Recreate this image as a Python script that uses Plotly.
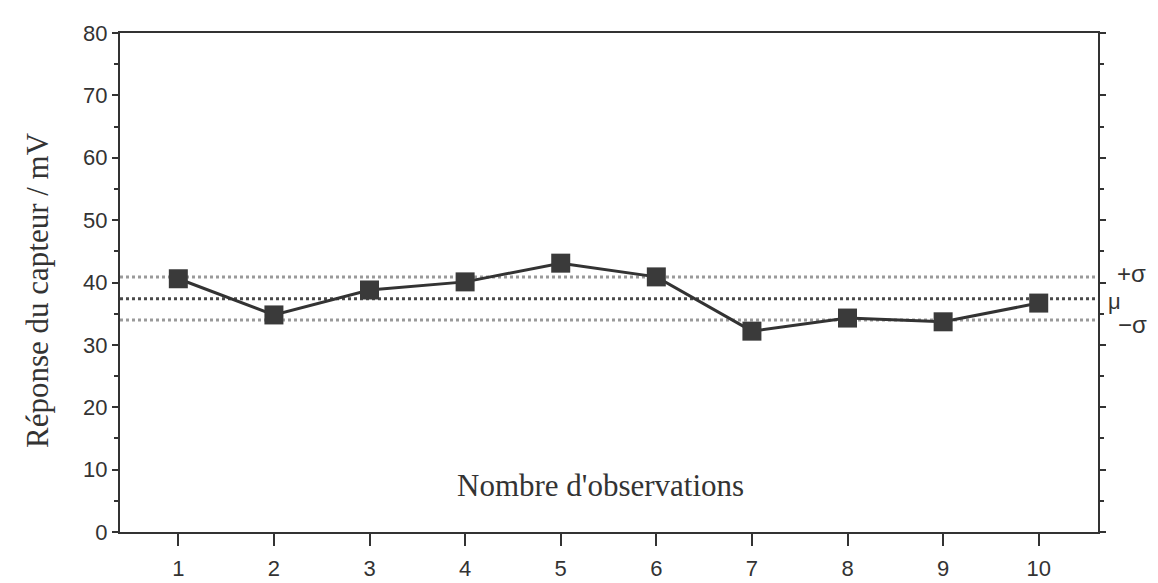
import plotly.graph_objects as go

observations = [1, 2, 3, 4, 5, 6, 7, 8, 9, 10]
reponse_mV = [40.6, 34.8, 38.8, 40.1, 43.1, 40.9, 32.2, 34.3, 33.7, 36.7]
mu = 37.4
plus_sigma = 40.9
minus_sigma = 34.0
y_ticks = [0, 10, 20, 30, 40, 50, 60, 70, 80]

x_range = [0.39, 10.62]

fig = go.Figure()

# reference lines (mean and +/- one standard deviation)
for val, col in [(plus_sigma, "#9a9a9a"), (minus_sigma, "#9a9a9a"), (mu, "#4a4a4a")]:
    fig.add_trace(go.Scatter(x=x_range, y=[val, val], mode="lines",
                             line=dict(color=col, width=3, dash="dot"),
                             hoverinfo="skip", showlegend=False))

fig.add_trace(go.Scatter(
    x=observations, y=reponse_mV, mode="lines+markers",
    line=dict(color="#333333", width=3),
    marker=dict(symbol="square", size=19, color="#3a3a3a"),
    showlegend=False))

serif = "Liberation Serif, Times New Roman, serif"
sans = "Liberation Sans, Arial, sans-serif"
ink = "#333333"

fig.update_layout(
    width=1158, height=583,
    margin=dict(l=112, r=68, t=25, b=59),
    paper_bgcolor="white", plot_bgcolor="white",
    xaxis=dict(range=x_range, tickvals=observations, showgrid=False, zeroline=False,
               automargin=False,
               showline=True, linecolor=ink, linewidth=2, mirror=True,
               ticks="outside", ticklen=12, tickwidth=2, tickcolor=ink,
               ticklabelstandoff=4,
               tickfont=dict(family=sans, size=22, color=ink)),
    yaxis=dict(range=[0, 80], tickvals=y_ticks, showgrid=False, zeroline=False,
               automargin=False,
               showline=True, linecolor=ink, linewidth=2, mirror="ticks",
               ticks="outside", ticklen=6, tickwidth=2, tickcolor=ink,
               minor=dict(dtick=5, ticks="outside", ticklen=4, tickwidth=2, tickcolor=ink),
               tickfont=dict(family=sans, size=22, color=ink)),
)

fig.add_annotation(x=0, xref="paper", xanchor="center", xshift=-82,
                   y=0.485, yref="paper", yanchor="middle",
                   text="Réponse du capteur / mV", textangle=-90, showarrow=False,
                   font=dict(family=serif, size=31, color=ink))

fig.add_annotation(x=0.491, xref="paper", y=7.5, yref="y", text="Nombre d'observations",
                   showarrow=False, font=dict(family=serif, size=31, color=ink))

fig.add_annotation(x=1.0, xref="paper", xanchor="center", xshift=33,
                   y=plus_sigma, yref="y", yanchor="middle", yshift=3,
                   text="+σ", showarrow=False, font=dict(family=sans, size=24, color=ink))
fig.add_annotation(x=1.0, xref="paper", xanchor="center", xshift=16,
                   y=mu, yref="y", yanchor="middle", yshift=-3,
                   text="μ", showarrow=False, font=dict(family=sans, size=22, color=ink))
fig.add_annotation(x=1.0, xref="paper", xanchor="center", xshift=34,
                   y=minus_sigma, yref="y", yanchor="middle", yshift=-5,
                   text="−σ", showarrow=False, font=dict(family=sans, size=24, color=ink))

fig.write_html("out.html")
